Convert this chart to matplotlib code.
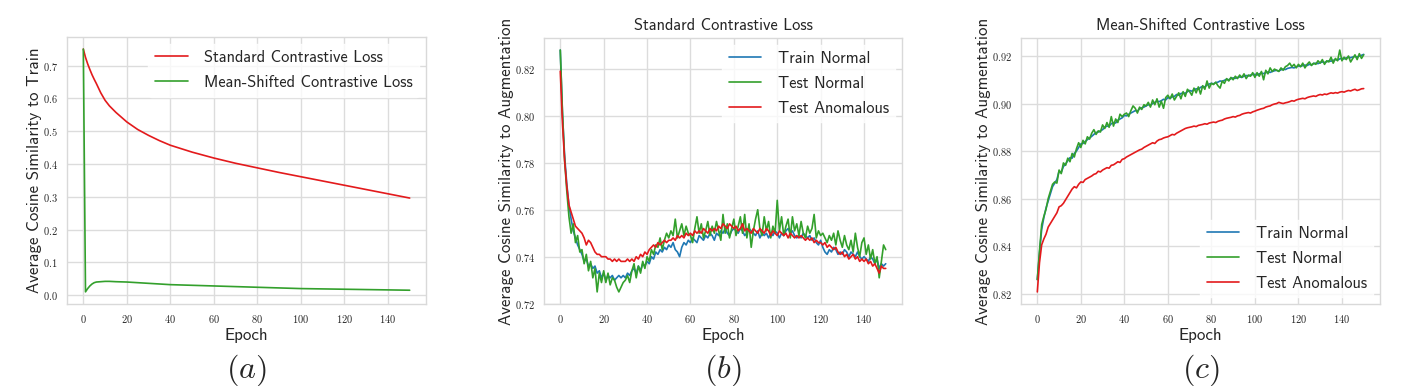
import matplotlib

matplotlib.use("Agg")
import matplotlib.pyplot as plt
import seaborn as sns
from matplotlib.ticker import MultipleLocator

# ---- panel (a): cosine similarity to train ----
epochs_a = [0, 1, 2, 3, 4, 5, 6, 8, 10, 12, 15, 20, 25, 30, 35, 40, 50, 60, 70,
            80, 90, 100, 110, 120, 130, 140, 150]
std_train_sim = [0.750, 0.725, 0.705, 0.688, 0.672, 0.658, 0.645, 0.617, 0.594,
                 0.577, 0.557, 0.528, 0.505, 0.487, 0.471, 0.457, 0.436, 0.418,
                 0.402, 0.388, 0.374, 0.361, 0.348, 0.335, 0.322, 0.309, 0.296]
msc_train_sim = [0.750, 0.010, 0.020, 0.028, 0.034, 0.038, 0.040, 0.041, 0.042,
                 0.042, 0.041, 0.040, 0.038, 0.036, 0.034, 0.032, 0.030, 0.028,
                 0.026, 0.024, 0.022, 0.020, 0.019, 0.018, 0.017, 0.016, 0.015]

# ---- panels (b), (c): one value per epoch 0..150 ----
epochs = list(range(151))

std_train_normal = [
    0.828, 0.801, 0.783, 0.771, 0.762, 0.756, 0.751, 0.748, 0.745, 0.743,
    0.741, 0.738, 0.739, 0.736, 0.737, 0.735, 0.736, 0.733, 0.734, 0.731,
    0.733, 0.730, 0.732, 0.731, 0.732, 0.730, 0.731, 0.732, 0.731, 0.732,
    0.731, 0.733, 0.732, 0.734, 0.735, 0.733, 0.736, 0.734, 0.737, 0.736,
    0.738, 0.737, 0.740, 0.739, 0.742, 0.741, 0.743, 0.742, 0.744, 0.743,
    0.745, 0.744, 0.746, 0.743, 0.742, 0.740, 0.744, 0.746, 0.745, 0.747,
    0.746, 0.748, 0.747, 0.746, 0.749, 0.748, 0.747, 0.749, 0.748, 0.750,
    0.749, 0.747, 0.750, 0.749, 0.751, 0.750, 0.752, 0.750, 0.749, 0.751,
    0.752, 0.751, 0.750, 0.752, 0.751, 0.749, 0.750, 0.752, 0.751, 0.750,
    0.749, 0.751, 0.748, 0.750, 0.749, 0.750, 0.748, 0.750, 0.749, 0.751,
    0.750, 0.748, 0.750, 0.749, 0.751, 0.752, 0.750, 0.751, 0.749, 0.748,
    0.749, 0.748, 0.750, 0.749, 0.748, 0.749, 0.747, 0.748, 0.746, 0.745,
    0.747, 0.744, 0.742, 0.741, 0.743, 0.742, 0.744, 0.743, 0.741, 0.742,
    0.741, 0.743, 0.742, 0.740, 0.742, 0.741, 0.740, 0.742, 0.740, 0.739,
    0.740, 0.739, 0.738, 0.740, 0.739, 0.737, 0.739, 0.735, 0.737, 0.736,
    0.737,
]
std_test_normal = [
    0.828, 0.802, 0.781, 0.768, 0.757, 0.750, 0.754, 0.746, 0.749, 0.742,
    0.743, 0.737, 0.741, 0.734, 0.738, 0.731, 0.735, 0.725, 0.733, 0.729,
    0.734, 0.729, 0.733, 0.728, 0.731, 0.730, 0.727, 0.725, 0.727, 0.729,
    0.730, 0.732, 0.729, 0.734, 0.737, 0.731, 0.736, 0.733, 0.738, 0.735,
    0.740, 0.738, 0.743, 0.741, 0.745, 0.744, 0.748, 0.743, 0.747, 0.750,
    0.748, 0.751, 0.749, 0.756, 0.748, 0.751, 0.754, 0.749, 0.753, 0.750,
    0.749, 0.746, 0.752, 0.757, 0.750, 0.754, 0.748, 0.751, 0.755, 0.749,
    0.753, 0.750, 0.755, 0.751, 0.747, 0.758, 0.750, 0.754, 0.748, 0.752,
    0.756, 0.749, 0.753, 0.757, 0.750, 0.758, 0.748, 0.754, 0.744, 0.751,
    0.756, 0.760, 0.752, 0.749, 0.757, 0.751, 0.755, 0.748, 0.753, 0.750,
    0.764, 0.751, 0.757, 0.749, 0.753, 0.756, 0.748, 0.757, 0.751, 0.754,
    0.749, 0.755, 0.750, 0.748, 0.753, 0.750, 0.752, 0.758, 0.748, 0.751,
    0.749, 0.750, 0.748, 0.746, 0.749, 0.747, 0.750, 0.745, 0.751, 0.747,
    0.744, 0.749, 0.745, 0.743, 0.747, 0.742, 0.750, 0.744, 0.740, 0.746,
    0.748, 0.741, 0.745, 0.739, 0.743, 0.737, 0.740, 0.731, 0.738, 0.745,
    0.743,
]
std_test_anomalous = [
    0.819, 0.797, 0.781, 0.770, 0.762, 0.759, 0.756, 0.753, 0.752, 0.751,
    0.750, 0.748, 0.745, 0.747, 0.746, 0.744, 0.742, 0.741, 0.741, 0.740,
    0.740, 0.740, 0.739, 0.739, 0.738, 0.739, 0.738, 0.739, 0.738, 0.738,
    0.738, 0.739, 0.738, 0.739, 0.738, 0.740, 0.739, 0.741, 0.740, 0.742,
    0.741, 0.743, 0.744, 0.745, 0.744, 0.746, 0.745, 0.746, 0.747, 0.746,
    0.747, 0.747, 0.748, 0.747, 0.749, 0.748, 0.749, 0.748, 0.750, 0.749,
    0.750, 0.749, 0.751, 0.750, 0.751, 0.750, 0.752, 0.751, 0.750, 0.752,
    0.751, 0.752, 0.751, 0.753, 0.752, 0.754, 0.753, 0.752, 0.754, 0.753,
    0.752, 0.753, 0.751, 0.752, 0.754, 0.751, 0.752, 0.751, 0.750, 0.752,
    0.751, 0.750, 0.752, 0.751, 0.750, 0.752, 0.751, 0.749, 0.751, 0.750,
    0.749, 0.751, 0.750, 0.749, 0.750, 0.748, 0.750, 0.749, 0.748, 0.749,
    0.748, 0.749, 0.748, 0.747, 0.748, 0.747, 0.748, 0.746, 0.747, 0.746,
    0.746, 0.745, 0.746, 0.744, 0.745, 0.744, 0.743, 0.744, 0.742, 0.741,
    0.742, 0.740, 0.741, 0.739, 0.740, 0.741, 0.739, 0.740, 0.738, 0.739,
    0.738, 0.739, 0.737, 0.738, 0.736, 0.737, 0.735, 0.733, 0.736, 0.735,
    0.735,
]

msc_train_normal = [
    0.8259, 0.8370, 0.8470, 0.8520, 0.8560, 0.8590, 0.8620, 0.8650, 0.8665, 0.8680,
    0.8715, 0.8710, 0.8735, 0.8745, 0.8760, 0.8772, 0.8770, 0.8790, 0.8800, 0.8815,
    0.8830, 0.8832, 0.8840, 0.8848, 0.8855, 0.8862, 0.8870, 0.8878, 0.8880, 0.8885,
    0.8890, 0.8900, 0.8905, 0.8905, 0.8915, 0.8920, 0.8918, 0.8930, 0.8935, 0.8940,
    0.8950, 0.8948, 0.8955, 0.8960, 0.8965, 0.8970, 0.8968, 0.8978, 0.8982, 0.8985,
    0.8990, 0.8995, 0.8993, 0.9000, 0.9005, 0.9010, 0.9008, 0.9012, 0.9018, 0.9015,
    0.9025, 0.9022, 0.9028, 0.9030, 0.9038, 0.9035, 0.9042, 0.9045, 0.9043, 0.9050,
    0.9055, 0.9052, 0.9058, 0.9062, 0.9060, 0.9068, 0.9072, 0.9070, 0.9078, 0.9082,
    0.9085, 0.9083, 0.9088, 0.9090, 0.9095, 0.9093, 0.9098, 0.9102, 0.9100, 0.9105,
    0.9108, 0.9106, 0.9110, 0.9112, 0.9110, 0.9115, 0.9118, 0.9116, 0.9120, 0.9122,
    0.9123, 0.9120, 0.9125, 0.9128, 0.9126, 0.9130, 0.9133, 0.9131, 0.9135, 0.9138,
    0.9140, 0.9137, 0.9142, 0.9145, 0.9143, 0.9148, 0.9150, 0.9152, 0.9150, 0.9155,
    0.9158, 0.9156, 0.9160, 0.9162, 0.9160, 0.9165, 0.9163, 0.9168, 0.9170, 0.9168,
    0.9172, 0.9175, 0.9173, 0.9176, 0.9180, 0.9178, 0.9182, 0.9185, 0.9183, 0.9188,
    0.9190, 0.9188, 0.9192, 0.9195, 0.9193, 0.9196, 0.9198, 0.9196, 0.9200, 0.9203,
    0.9207,
]
msc_test_normal = [
    0.8259, 0.8380, 0.8490, 0.8525, 0.8555, 0.8600, 0.8630, 0.8660, 0.8670, 0.8665,
    0.8720, 0.8705, 0.8750, 0.8740, 0.8770, 0.8755, 0.8790, 0.8775, 0.8810, 0.8835,
    0.8815, 0.8845, 0.8830, 0.8860, 0.8850, 0.8875, 0.8890, 0.8870, 0.8885, 0.8880,
    0.8910, 0.8895, 0.8920, 0.8900, 0.8945, 0.8905, 0.8935, 0.8920, 0.8955, 0.8945,
    0.8955, 0.8960, 0.8945, 0.8970, 0.8990, 0.8980, 0.8960, 0.8985, 0.8975, 0.8995,
    0.8990, 0.9005, 0.8985, 0.9015, 0.8995, 0.9020, 0.8985, 0.9010, 0.8980, 0.9025,
    0.9035, 0.9020, 0.9040, 0.9015, 0.9030, 0.9045, 0.9020, 0.9050, 0.9030, 0.9060,
    0.9050, 0.9035, 0.9065, 0.9045, 0.9070, 0.9040, 0.9075, 0.9060, 0.9095, 0.9065,
    0.9085, 0.9080, 0.9090, 0.9075, 0.9065, 0.9095, 0.9085, 0.9105, 0.9095, 0.9110,
    0.9100, 0.9115, 0.9105, 0.9120, 0.9110, 0.9125, 0.9105, 0.9120, 0.9115, 0.9130,
    0.9110, 0.9130, 0.9115, 0.9135, 0.9100, 0.9140, 0.9125, 0.9150, 0.9135, 0.9145,
    0.9140, 0.9135, 0.9150, 0.9140, 0.9155, 0.9160, 0.9170, 0.9155, 0.9165, 0.9150,
    0.9165, 0.9155, 0.9170, 0.9150, 0.9165, 0.9175, 0.9160, 0.9170, 0.9165, 0.9180,
    0.9170, 0.9185, 0.9165, 0.9180, 0.9175, 0.9195, 0.9170, 0.9190, 0.9180, 0.9225,
    0.9180, 0.9195, 0.9185, 0.9200, 0.9175, 0.9190, 0.9205, 0.9185, 0.9210, 0.9190,
    0.9205,
]
msc_test_anomalous = [
    0.8207, 0.8330, 0.8405, 0.8430, 0.8450, 0.8480, 0.8495, 0.8510, 0.8525, 0.8540,
    0.8565, 0.8570, 0.8580, 0.8595, 0.8610, 0.8625, 0.8640, 0.8650, 0.8645, 0.8660,
    0.8670, 0.8668, 0.8680, 0.8685, 0.8690, 0.8695, 0.8702, 0.8705, 0.8715, 0.8712,
    0.8720, 0.8725, 0.8730, 0.8728, 0.8740, 0.8742, 0.8748, 0.8755, 0.8752, 0.8765,
    0.8768, 0.8775, 0.8780, 0.8785, 0.8790, 0.8795, 0.8800, 0.8805, 0.8808, 0.8815,
    0.8820, 0.8825, 0.8830, 0.8835, 0.8832, 0.8842, 0.8848, 0.8850, 0.8855, 0.8858,
    0.8860, 0.8865, 0.8870, 0.8868, 0.8875, 0.8880, 0.8885, 0.8890, 0.8895, 0.8898,
    0.8900, 0.8902, 0.8905, 0.8903, 0.8908, 0.8910, 0.8912, 0.8915, 0.8913, 0.8918,
    0.8920, 0.8922, 0.8920, 0.8925, 0.8928, 0.8930, 0.8935, 0.8938, 0.8940, 0.8942,
    0.8945, 0.8943, 0.8948, 0.8950, 0.8955, 0.8958, 0.8960, 0.8962, 0.8960, 0.8965,
    0.8968, 0.8972, 0.8975, 0.8978, 0.8980, 0.8985, 0.8988, 0.8990, 0.8995, 0.8998,
    0.9000, 0.9005, 0.9002, 0.9000, 0.9003, 0.9005, 0.9008, 0.9012, 0.9010, 0.9015,
    0.9018, 0.9020, 0.9022, 0.9020, 0.9025, 0.9028, 0.9030, 0.9032, 0.9030, 0.9035,
    0.9038, 0.9036, 0.9040, 0.9038, 0.9042, 0.9045, 0.9043, 0.9046, 0.9044, 0.9048,
    0.9050, 0.9048, 0.9052, 0.9055, 0.9053, 0.9057, 0.9060, 0.9055, 0.9058, 0.9062,
    0.9063,
]

series_labels = ["Train Normal", "Test Normal", "Test Anomalous"]

BLUE, GREEN, RED = "#1f78b4", "#33a02c", "#e31a1c"
SANS = "cmss10"
SERIF = "cmr10"

sns.set_style("whitegrid")
plt.rcParams["font.family"] = [SANS, "DejaVu Sans"]
plt.rcParams["mathtext.fontset"] = "cm"
plt.rcParams["axes.formatter.use_mathtext"] = True
plt.rcParams["axes.edgecolor"] = "#d9d9d9"
plt.rcParams["grid.color"] = "#dcdcdc"

W, H = 1405, 386
fig = plt.figure(figsize=(W / 100, H / 100), dpi=100)


def make_axes(left_px, right_px, top_px=38, bottom_px=304):
    return fig.add_axes([left_px / W, 1 - bottom_px / H,
                         (right_px - left_px) / W, (bottom_px - top_px) / H])


def style_axes(ax, ylabel):
    ax.set_xlabel("Epoch", fontsize=12.2, labelpad=2)
    ax.set_ylabel(ylabel, fontsize=12.2, labelpad=0.5)
    ax.xaxis.set_major_locator(MultipleLocator(20))
    ax.tick_params(axis="both", labelsize=7.5, pad=3)
    for lab in ax.get_xticklabels() + ax.get_yticklabels():
        lab.set_fontfamily(SERIF)
    for spine in ax.spines.values():
        spine.set_linewidth(1.0)
    ax.grid(True, linewidth=1.0)


def legend(ax, loc):
    leg = ax.legend(loc=loc, fontsize=11.8, frameon=True, framealpha=0.8,
                    edgecolor="white", handlelength=2.0, labelspacing=0.6,
                    handletextpad=1.0, borderaxespad=0.4)
    return leg


lw = 1.2

# (a)
ax_a = make_axes(67, 426, top_px=37)
ax_a.plot(epochs_a, std_train_sim, color=RED, lw=lw, label="Standard Contrastive Loss")
ax_a.plot(epochs_a, msc_train_sim, color=GREEN, lw=lw, label="Mean-Shifted Contrastive Loss")
ax_a.yaxis.set_major_locator(MultipleLocator(0.1))
style_axes(ax_a, "Average Cosine Similarity to Train")
legend(ax_a, "upper right")

# (b)
ax_b = make_axes(544, 902)
for vals, col, lab in zip([std_train_normal, std_test_normal, std_test_anomalous],
                          [BLUE, GREEN, RED], series_labels):
    ax_b.plot(epochs, vals, color=col, lw=lw, label=lab)
ax_b.yaxis.set_major_locator(MultipleLocator(0.02))
ax_b.set_title("Standard Contrastive Loss", fontsize=11.8, pad=6)
style_axes(ax_b, "Average Cosine Similarity to Augmentation")
legend(ax_b, "upper right")

# (c)
ax_c = make_axes(1021, 1380)
for vals, col, lab in zip([msc_train_normal, msc_test_normal, msc_test_anomalous],
                          [BLUE, GREEN, RED], series_labels):
    ax_c.plot(epochs, vals, color=col, lw=lw, label=lab)
ax_c.yaxis.set_major_locator(MultipleLocator(0.02))
ax_c.set_title("Mean-Shifted Contrastive Loss", fontsize=11.8, pad=6)
style_axes(ax_c, "Average Cosine Similarity to Augmentation")
legend(ax_c, "lower right")

# panel letters
for ax, letter in zip([ax_a, ax_b, ax_c], "abc"):
    pos = ax.get_position()
    fig.text(pos.x0 + pos.width / 2, 1 - 370 / H, f"$({letter})$",
             ha="center", va="center", fontsize=23)

fig.savefig("out.png", dpi=100)
